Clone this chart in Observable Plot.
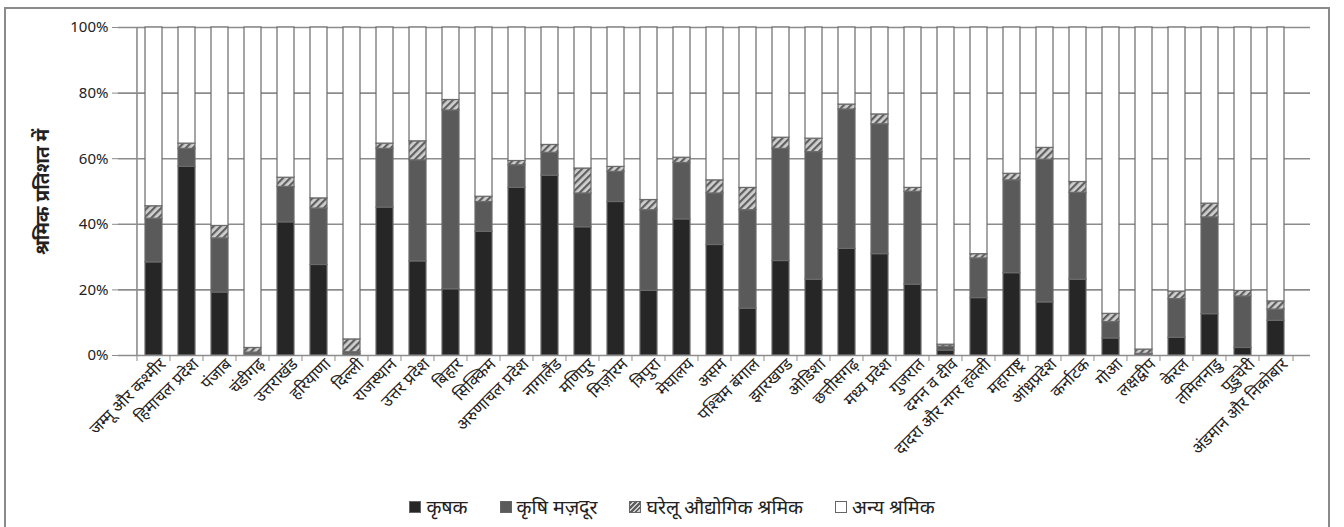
<!DOCTYPE html>
<html><head><meta charset="utf-8">
<script src="https://cdn.jsdelivr.net/npm/d3@7"></script>
<script src="https://cdn.jsdelivr.net/npm/@observablehq/plot@0.6"></script>
<style>
body{margin:0;background:#fff;font-family:"Noto Sans",sans-serif}
#wrap{position:relative;width:1344px;height:527px;overflow:hidden;background:#fff}
#frame{position:absolute;left:4px;top:7px;width:1326px;height:600px;border:2px solid #8a8a8a;box-sizing:border-box}
#chart{position:absolute;left:0;top:0}
#ylabel{position:absolute;left:42px;top:192px;transform:translate(-50%,-50%) rotate(-90deg);white-space:nowrap;font-size:19px;font-weight:bold;color:#222}
#legend{position:absolute;left:0;width:1344px;top:493px;display:flex;justify-content:center;gap:32px;font-size:19.5px;color:#222;align-items:center}
#legend span.item{display:flex;align-items:center}
.sw{display:inline-block;width:10px;height:10px;margin-right:5px;border:1px solid #666}
</style></head>
<body>
<div id="wrap">
  <div id="frame"></div>
  <div id="chart"></div>
  <div id="ylabel">श्रमिक प्रतिशत में</div>
  <div id="legend"></div>
</div>
<script>
const states = ["जम्मू और कश्मीर","हिमाचल प्रदेश","पंजाब","चंडीगढ़","उत्तराखंड","हरियाणा","दिल्ली","राजस्थान","उत्तर प्रदेश","बिहार","सिक्किम","अरुणाचल प्रदेश","नागालैंड","मणिपुर","मिज़ोरम","त्रिपुरा","मेघालय","असम","पश्चिम बंगाल","झारखण्ड","ओडिशा","छत्तीसगढ़","मध्य प्रदेश","गुजरात","दमन व दीव","दादरा और नगर हवेली","महाराष्ट्र","आंध्रप्रदेश","कर्नाटक","गोआ","लक्षद्वीप","केरल","तमिलनाडु","पुडुचेरी","अंडमान और निकोबार"];
const seriesNames = ["कृषक","कृषि मज़दूर","घरेलू औद्योगिक श्रमिक","अन्य श्रमिक"];
const cultivators = [28.4,57.5,19.2,0.3,40.6,27.6,0.4,45.1,28.7,20.2,37.7,51.1,54.8,39.1,46.8,19.7,41.5,33.7,14.3,28.8,23.1,32.5,30.9,21.6,1.5,17.5,25.1,16.2,23.1,5.2,0.2,5.4,12.6,2.3,10.6];
const labourers   = [13.3,5.5,16.5,0.6,10.8,17.2,0.6,17.9,30.8,54.5,9.1,6.9,7.0,10.3,9.2,24.6,17.2,15.7,30.0,34.2,38.9,42.5,39.6,28.3,1.2,12.1,28.3,43.5,26.5,5.0,0.3,11.8,29.5,15.7,3.4];
const household   = [3.8,1.6,3.8,1.4,2.8,3.1,3.9,1.6,5.8,3.2,1.6,1.3,2.4,7.6,1.5,3.1,1.6,4.0,6.8,3.4,4.1,1.5,3.0,1.2,0.6,1.3,2.0,3.6,3.3,2.5,1.3,2.3,4.2,1.7,2.5];
const others      = [54.5,35.4,60.5,97.7,45.8,52.1,95.1,35.4,34.7,22.1,51.6,40.7,35.8,43.0,42.5,52.6,39.7,46.6,48.9,33.6,33.9,23.5,26.5,48.9,96.7,69.1,44.6,36.7,47.1,87.3,98.2,80.5,53.7,80.3,83.5];
const yTicks = [0,20,40,60,80,100];
const seriesColors = ["#262626","#5a5a5a","url(#hatch)","#ffffff"];

const cols = [cultivators, labourers, household, others];
const data = [];
states.forEach((s,i) => seriesNames.forEach((n,k) => data.push({state:s, series:n, value:cols[k][i]})));

const W = 1344, H = 470, ML = 118, MR = 34, MT = 27, MB = 115;
const bw = (W - ML - MR) / states.length;

const chart = Plot.plot({
  width: W, height: H,
  marginLeft: ML, marginRight: MR, marginTop: MT, marginBottom: MB,
  style: {fontFamily: '"Noto Sans", sans-serif', background: "transparent", color: "#222"},
  x: {domain: states, padding: 0.5, label: null, axis: null},
  y: {domain: [0,100], label: null, axis: null},
  color: {domain: seriesNames, range: seriesColors},
  marks: [
    Plot.gridY(yTicks.slice(1), {stroke: "#8c8c8c", strokeOpacity: 1, strokeWidth: 1.6}),
    Plot.barY(data, Plot.stackY({x: "state", y: "value", fill: "series", order: seriesNames, stroke: "#6a6a6a", strokeWidth: 1.2})),
    Plot.ruleY([0], {stroke: "#8c8c8c", strokeWidth: 1.6}),
    Plot.ruleX([states[0]], {dx: -bw/2, stroke: "#8c8c8c", strokeWidth: 1.6}),
    Plot.axisY({ticks: yTicks, tickFormat: d => d + "%", tickSize: 6, tickPadding: 4, fontSize: 15, stroke: "#8c8c8c"}),
    Plot.axisX({tickSize: 6, text: null, dx: -bw/2, stroke: "#8c8c8c"}),
    Plot.axisX({ticks: [states[states.length-1]], tickSize: 6, text: null, dx: bw/2, stroke: "#8c8c8c"}),
    Plot.axisX({tickSize: 0, tickPadding: 6, tickRotate: -45, fontSize: 16.5, dx: 9})
  ]
});

const svgNS = "http://www.w3.org/2000/svg";
const defs = document.createElementNS(svgNS, "defs");
defs.innerHTML = '<pattern id="hatch" patternUnits="userSpaceOnUse" width="5" height="5" patternTransform="rotate(45)">' +
  '<rect width="5" height="5" fill="#cfcfcf"></rect><rect width="2.2" height="5" fill="#5e5e5e"></rect></pattern>';
chart.insertBefore(defs, chart.firstChild);
document.getElementById("chart").appendChild(chart);

const legend = document.getElementById("legend");
const swStyles = [
  "background:#262626",
  "background:#5a5a5a",
  "background:repeating-linear-gradient(135deg,#5e5e5e 0 1.5px,#cfcfcf 1.5px 3.5px)",
  "background:#fff"
];
seriesNames.forEach((n,k) => {
  const it = document.createElement("span");
  it.className = "item";
  it.innerHTML = `<span class="sw" style="${swStyles[k]}"></span>${n}`;
  legend.appendChild(it);
});
</script>
</body></html>
